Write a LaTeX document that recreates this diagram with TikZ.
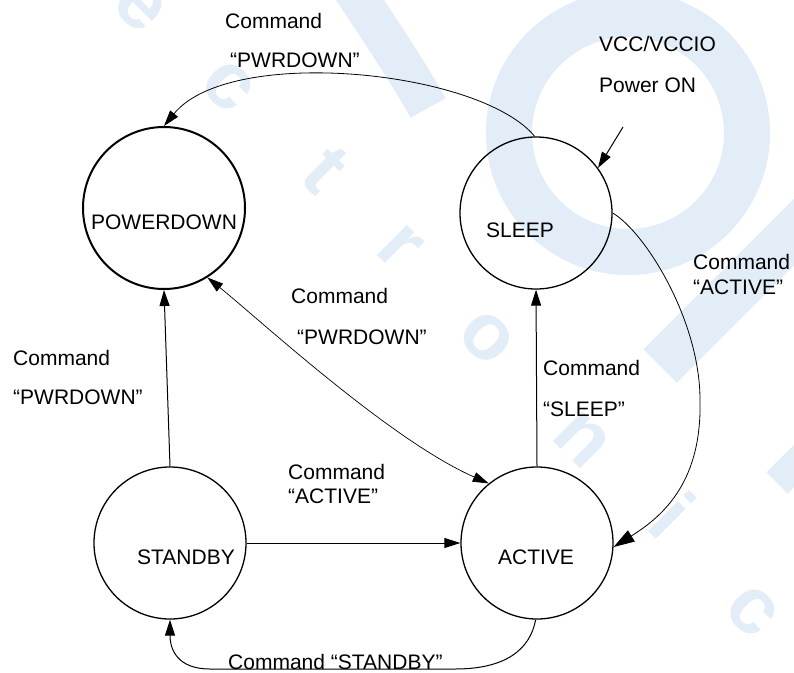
\documentclass[tikz,border=0pt]{standalone}
\usepackage{fontspec}
\setmainfont{Liberation Sans}
\usetikzlibrary{arrows.meta}
\definecolor{wm}{RGB}{226,237,248}
\begin{document}
\begin{tikzpicture}[x=1pt,y=-1pt,
  font=\fontsize{21}{25}\selectfont,
  state/.style={circle, draw, line width=1.3pt, minimum size=152pt, inner sep=0pt},
  lbl/.style={anchor=west, inner sep=0pt, text height=15pt, text depth=0pt},
  clbl/.style={anchor=center, inner sep=0pt, text height=15pt, text depth=0pt},
  arr/.style={-{Triangle[length=16pt,width=10pt]}, line width=1pt},
  arrbig/.style={-{Triangle[length=21pt,width=13pt]}, line width=0.8pt},
  wmletter/.style={text=wm, font=\fontsize{80}{80}\selectfont\bfseries, rotate=-45, inner sep=0pt}]

\fill[white] (0,0) rectangle (794,672);
\useasboundingbox (0,0) rectangle (794,672);

% watermark
\begin{scope}
\clip (0,0) rectangle (794,672);
\fill[wm, even odd rule] (628,133) circle (142pt) (628,133) circle (96pt);
\draw[wm, line width=40pt] (350,-15) .. controls (380,30) and (410,75) .. (428,108);
\draw[wm, line width=47pt] (660,366) -- (840,186);
\draw[wm, line width=30pt] (777,483) -- (840,420);
\node[wmletter] (wm1) at (140,6) {e};
\node[wmletter] (wm2) at (228,86) {c};
\node[wmletter] (wm3) at (325,170) {t};
\node[wmletter] (wm4) at (400,247) {r};
\node[wmletter] (wm5) at (487,338) {o};
\node[wmletter] (wm6) at (582,440) {n};
\node[wmletter] (wm7) at (673,515) {i};
\node[wmletter] (wm8) at (752,611) {c};
\end{scope}

% states
\node[state, line width=2pt, minimum size=162pt] (pd) at (164,208) {};
\node[state] (sl) at (536,213) {};
\node[state] (sb) at (170,543) {};
\node[state] (ac) at (537,543) {};

\node[clbl] (tpd) at (164,222) {POWERDOWN};
\node[clbl] (tsl) at (520,230) {SLEEP};
\node[clbl] (tsb) at (186,557) {STANDBY};
\node[clbl] (tac) at (536,557) {ACTIVE};

% labels
\node[lbl] (l1a) at (225,20.5) {Command};
\node[lbl] (l1b) at (230,60) {“PWRDOWN”};
\node[lbl] (l2a) at (599,43.5) {VCC/VCCIO};
\node[lbl] (l2b) at (599,85) {Power ON};
\node[lbl] (l3a) at (693,261.5) {Command};
\node[lbl] (l3b) at (693,286.5) {“ACTIVE”};
\node[lbl] (l4a) at (291,295.5) {Command};
\node[lbl] (l4b) at (297,336.5) {“PWRDOWN”};
\node[lbl] (l5a) at (13,357.5) {Command};
\node[lbl] (l5b) at (13,396.5) {“PWRDOWN”};
\node[lbl] (l6a) at (543,367.5) {Command};
\node[lbl] (l6b) at (543,408.5) {“SLEEP”};
\node[lbl] (l7a) at (288,471.5) {Command};
\node[lbl] (l7b) at (288,495.5) {“ACTIVE”};
\node[lbl] (l8) at (228,661.5) {Command “STANDBY”};

\coordinate (pon) at (623,127);

% transitions
\draw[arr, line width=0.8pt] (sl.91) .. controls (480,70) and (230,45) .. (pd.90);
\draw[arr] (pon) -- (sl.36);
\draw[arrbig] (sl.east) .. controls (645,232) and (700,320) .. (700,400)
   .. controls (702,480) and (665,515) .. (ac.-3);
\draw[arr] (ac.north) -- (sl.south);
\draw[arr] (sb.north) -- (pd.south);
\draw[arr] (sb.east) -- (ac.west);
\draw[{Triangle[length=16pt,width=10pt]}-{Triangle[length=16pt,width=10pt]}, line width=0.7pt]
   (pd.-58) .. controls (260,320) and (390,440) .. (ac.129);
\draw[arr] (ac.-91) .. controls (530,650) and (505,669) .. (455,669) -- (210,669)
   .. controls (178,669) and (170,650) .. (sb.south);
\end{tikzpicture}
\end{document}
